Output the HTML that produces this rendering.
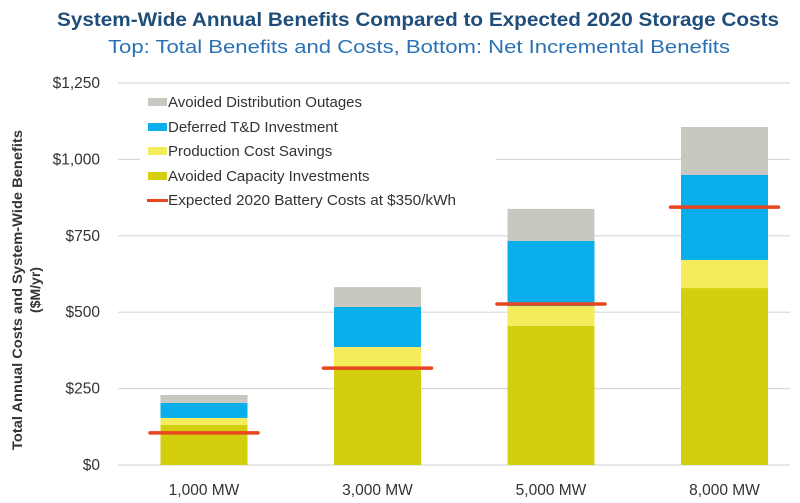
<!DOCTYPE html>
<html><head><meta charset="utf-8"><style>
body{margin:0;background:#fff;}
svg{display:block;font-family:"Liberation Sans",sans-serif;}
</style></head><body>
<svg id="chart" width="800" height="503" viewBox="0 0 800 503">
<text x="418" y="26" text-anchor="middle" font-size="19" font-weight="bold" fill="#1f4e7a" textLength="722" lengthAdjust="spacingAndGlyphs">System-Wide Annual Benefits Compared to Expected 2020 Storage Costs</text>
<text x="419" y="53" text-anchor="middle" font-size="18" fill="#2a72b5" textLength="622" lengthAdjust="spacingAndGlyphs">Top: Total Benefits and Costs, Bottom: Net Incremental Benefits</text>
<g id="grid"></g><g id="bars"></g><g id="lines"></g>
<g font-size="14" font-weight="bold" fill="#333">
<text transform="translate(22,290) rotate(-90)" text-anchor="middle" textLength="320" lengthAdjust="spacingAndGlyphs">Total Annual Costs and System-Wide Benefits</text>
<text transform="translate(40,290) rotate(-90)" text-anchor="middle">($M/yr)</text>
</g>
<g>
<rect x="140" y="88" width="356" height="124" fill="#fff"/>
<g font-size="15" fill="#333">
<rect x="148" y="98" width="19" height="8" fill="#c8c8c0"/><text x="168" y="107">Avoided Distribution Outages</text>
<rect x="148" y="123" width="19" height="8" fill="#09aeea"/><text x="168" y="132">Deferred T&amp;D Investment</text>
<rect x="148" y="147" width="19" height="8" fill="#f5ec5c"/><text x="168" y="156">Production Cost Savings</text>
<rect x="148" y="172" width="19" height="8" fill="#d4cf0e"/><text x="168" y="181">Avoided Capacity Investments</text>
<rect x="147" y="199" width="21" height="3" fill="#e8461e"/><text x="168" y="205" textLength="288" lengthAdjust="spacingAndGlyphs">Expected 2020 Battery Costs at $350/kWh</text>
</g></g>
</svg>
<script>
const categories=["1,000 MW","3,000 MW","5,000 MW","8,000 MW"];
const capacity=[131,317,455,579];
const production=[23,69,65,92];
const td=[49,131,213,278];
const outages=[26,65,105,157];
const battery=[105,317,527,844];
const yTicks=[0,250,500,750,1000,1250];
const yTickLabels=["$0","$250","$500","$750","$1,000","$1,250"];
const NS="http://www.w3.org/2000/svg";
const y=v=>465-v*382/1250;
const xc=i=>204+i*173.5;
const bw=87;
function mk(t,a,p){const e=document.createElementNS(NS,t);for(const k in a)e.setAttribute(k,a[k]);p.appendChild(e);return e;}
const grid=document.getElementById('grid'),bars=document.getElementById('bars'),lines=document.getElementById('lines'),svg=document.getElementById('chart');
yTicks.forEach((v,i)=>{
 const l=mk('line',{x1:118,x2:790,y1:y(v),y2:y(v),stroke:'#d9d9d9','stroke-width':1.2},grid);
 
 
 const t=mk('text',{x:100,y:y(v)+5,'text-anchor':'end','font-size':15.5,fill:'#333'},grid);
 t.textContent=yTickLabels[i];
 
 
});
const series=[[capacity,'#d4cf0e','capacity'],[production,'#f5ec5c','production'],[td,'#09aeea','td'],[outages,'#c8c8c0','outages']];
categories.forEach((c,i)=>{
 let base=0;
 series.forEach(([arr,col,nm])=>{
  const r=mk('rect',{x:xc(i)-bw/2,y:y(base+arr[i]),width:bw,height:y(base)-y(base+arr[i]),fill:col},bars);
  
  
  base+=arr[i];
 });
 const ln=mk('line',{x1:xc(i)-54,x2:xc(i)+54,y1:y(battery[i]),y2:y(battery[i]),stroke:'#e8461e','stroke-width':3.5,'stroke-linecap':'round'},lines);
 
 
 const t=mk('text',{x:xc(i),y:495,'text-anchor':'middle','font-size':15.5,fill:'#333'},svg);
 t.textContent=c;
 
 
});
</script>
</body></html>
